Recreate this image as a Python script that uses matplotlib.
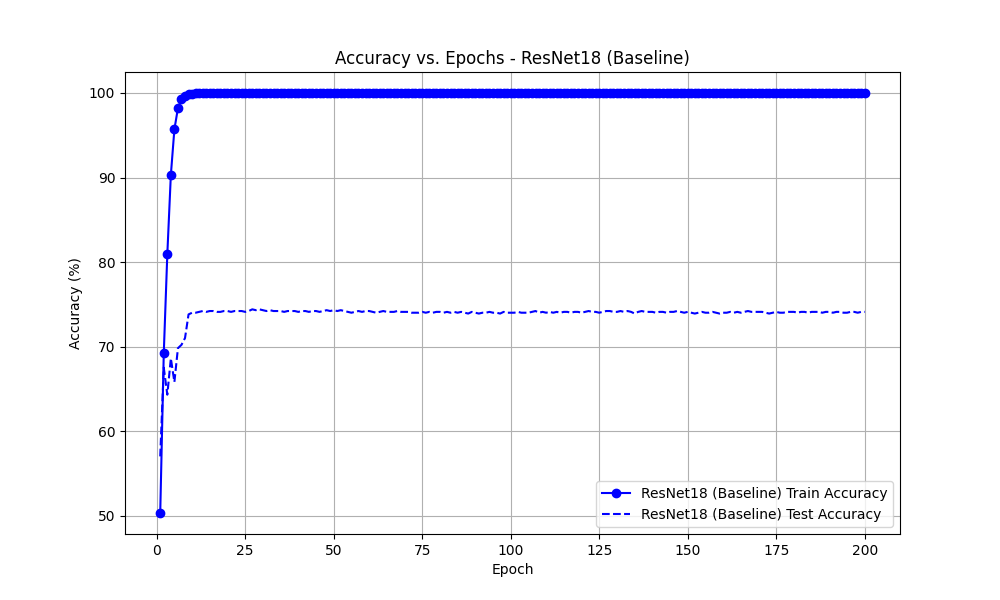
import matplotlib
matplotlib.use("Agg")
import matplotlib.pyplot as plt

model_name = "ResNet18 (Baseline)"

epochs = list(range(1, 201))

train_acc = [
    50.3, 69.2, 80.9, 90.3, 95.7, 98.2, 99.3, 99.7, 99.85, 99.9,
    99.95, 99.97, 99.98, 99.99, 100.0, 100.0, 100.0, 100.0, 100.0, 100.0,
    100.0, 100.0, 100.0, 100.0, 100.0, 100.0, 100.0, 100.0, 100.0, 100.0,
    100.0, 100.0, 100.0, 100.0, 100.0, 100.0, 100.0, 100.0, 100.0, 100.0,
    100.0, 100.0, 100.0, 100.0, 100.0, 100.0, 100.0, 100.0, 100.0, 100.0,
    100.0, 100.0, 100.0, 100.0, 100.0, 100.0, 100.0, 100.0, 100.0, 100.0,
    100.0, 100.0, 100.0, 100.0, 100.0, 100.0, 100.0, 100.0, 100.0, 100.0,
    100.0, 100.0, 100.0, 100.0, 100.0, 100.0, 100.0, 100.0, 100.0, 100.0,
    100.0, 100.0, 100.0, 100.0, 100.0, 100.0, 100.0, 100.0, 100.0, 100.0,
    100.0, 100.0, 100.0, 100.0, 100.0, 100.0, 100.0, 100.0, 100.0, 100.0,
    100.0, 100.0, 100.0, 100.0, 100.0, 100.0, 100.0, 100.0, 100.0, 100.0,
    100.0, 100.0, 100.0, 100.0, 100.0, 100.0, 100.0, 100.0, 100.0, 100.0,
    100.0, 100.0, 100.0, 100.0, 100.0, 100.0, 100.0, 100.0, 100.0, 100.0,
    100.0, 100.0, 100.0, 100.0, 100.0, 100.0, 100.0, 100.0, 100.0, 100.0,
    100.0, 100.0, 100.0, 100.0, 100.0, 100.0, 100.0, 100.0, 100.0, 100.0,
    100.0, 100.0, 100.0, 100.0, 100.0, 100.0, 100.0, 100.0, 100.0, 100.0,
    100.0, 100.0, 100.0, 100.0, 100.0, 100.0, 100.0, 100.0, 100.0, 100.0,
    100.0, 100.0, 100.0, 100.0, 100.0, 100.0, 100.0, 100.0, 100.0, 100.0,
    100.0, 100.0, 100.0, 100.0, 100.0, 100.0, 100.0, 100.0, 100.0, 100.0,
    100.0, 100.0, 100.0, 100.0, 100.0, 100.0, 100.0, 100.0, 100.0, 100.0,
]

test_acc = [
    57.0, 67.5, 64.3, 68.6, 65.8, 69.8, 70.2, 71.0, 73.8, 74.0,
    74.0, 74.1, 74.2, 74.1, 74.2, 74.2, 74.1, 74.1, 74.2, 74.2,
    74.1, 74.2, 74.2, 74.2, 74.1, 74.2, 74.4, 74.3, 74.4, 74.3,
    74.2, 74.3, 74.2, 74.2, 74.2, 74.1, 74.2, 74.2, 74.2, 74.1,
    74.2, 74.2, 74.1, 74.2, 74.2, 74.1, 74.2, 74.3, 74.2, 74.3,
    74.2, 74.3, 74.2, 74.1, 74.0, 74.1, 74.2, 74.1, 74.2, 74.2,
    74.1, 74.0, 74.1, 74.2, 74.1, 74.1, 74.1, 74.2, 74.1, 74.1,
    74.1, 74.0, 74.0, 74.0, 74.1, 74.0, 74.1, 74.0, 74.1, 74.1,
    74.0, 74.1, 74.0, 74.1, 74.0, 74.1, 74.0, 73.9, 74.1, 74.0,
    73.9, 74.0, 74.0, 74.1, 74.0, 74.0, 73.9, 74.1, 74.0, 74.0,
    74.0, 74.1, 74.0, 74.0, 74.0, 74.1, 74.2, 74.0, 74.1, 74.0,
    74.1, 74.0, 74.1, 74.0, 74.1, 74.1, 74.0, 74.1, 74.1, 74.0,
    74.1, 74.2, 74.1, 74.1, 74.0, 74.1, 74.2, 74.2, 74.1, 74.1,
    74.2, 74.1, 74.2, 74.1, 73.9, 74.1, 74.2, 74.1, 74.1, 74.1,
    74.0, 74.1, 74.1, 74.0, 74.1, 74.1, 74.2, 74.1, 74.0, 74.1,
    74.0, 73.9, 74.0, 74.1, 74.0, 74.0, 74.1, 74.0, 73.9, 74.0,
    74.0, 74.1, 74.0, 74.1, 74.0, 74.1, 74.2, 74.1, 74.1, 74.1,
    74.1, 74.0, 73.9, 74.0, 74.1, 74.0, 74.0, 74.1, 74.1, 74.1,
    74.0, 74.1, 74.1, 74.0, 74.1, 74.1, 74.1, 74.0, 74.1, 74.1,
    74.0, 74.1, 74.1, 74.0, 74.0, 74.1, 74.1, 74.0, 74.1, 74.1,
]

fig, ax = plt.subplots(figsize=(10, 6), dpi=100)
ax.plot(epochs, train_acc, "bo-", label=f"{model_name} Train Accuracy")
ax.plot(epochs, test_acc, "b--", label=f"{model_name} Test Accuracy")
ax.set_xlabel("Epoch")
ax.set_ylabel("Accuracy (%)")
ax.set_title(f"Accuracy vs. Epochs - {model_name}")
ax.legend(loc="lower right")
ax.grid(True)
fig.savefig("out.png")
